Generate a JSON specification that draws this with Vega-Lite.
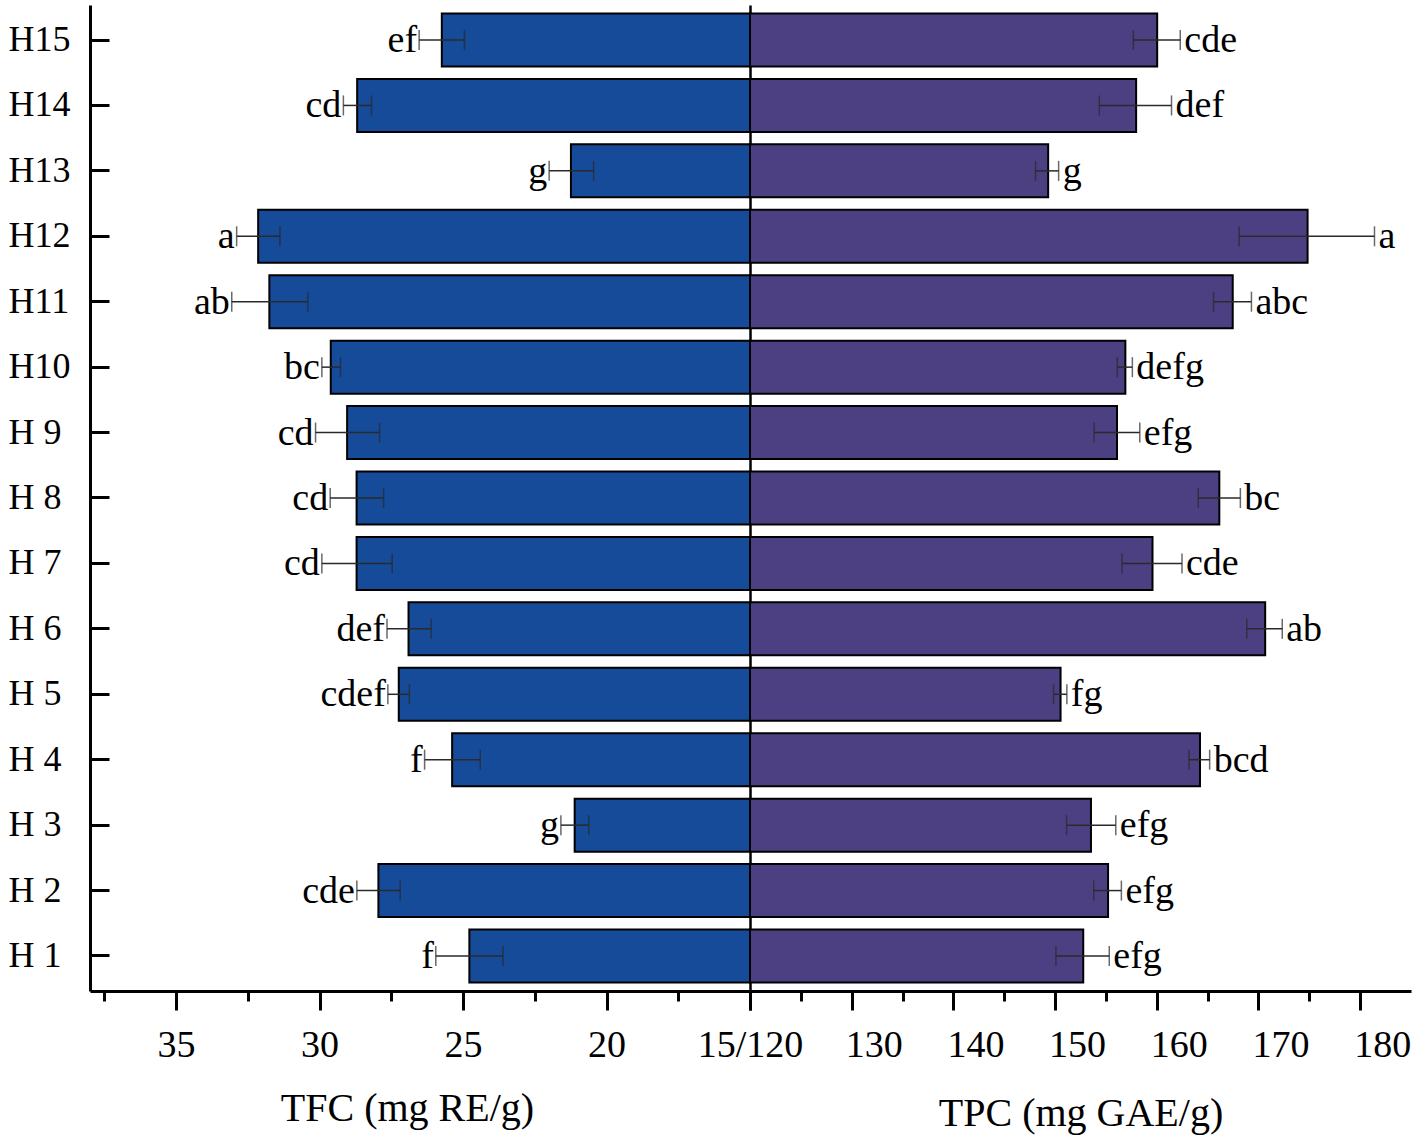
{
  "$schema": "https://vega.github.io/schema/vega-lite/v6.json",
  "description": "Back-to-back bars: TFC (left) and TPC (right) for honey samples H1-H15, with SD error bars and significance letters.",
  "bounds": "flush",
  "spacing": 0,
  "padding": {"left": 8, "top": 5, "right": 5, "bottom": 5},
  "datasets": {
    "samples": [
      {"sample": "H15", "tfc": 25.74, "tfc_lo": 24.95, "tfc_hi": 26.53, "tfc_grp": "ef", "tpc": 160.04, "tpc_lo": 157.70, "tpc_hi": 162.31, "tpc_grp": "cde"},
      {"sample": "H14", "tfc": 28.69, "tfc_lo": 28.19, "tfc_hi": 29.17, "tfc_grp": "cd", "tpc": 157.97, "tpc_lo": 154.35, "tpc_hi": 161.45, "tpc_grp": "def"},
      {"sample": "H13", "tfc": 21.24, "tfc_lo": 20.45, "tfc_hi": 22.00, "tfc_grp": "g", "tpc": 149.32, "tpc_lo": 148.08, "tpc_hi": 150.35, "tpc_grp": "g"},
      {"sample": "H12", "tfc": 32.14, "tfc_lo": 31.38, "tfc_hi": 32.89, "tfc_grp": "a", "tpc": 174.83, "tpc_lo": 168.10, "tpc_hi": 181.41, "tpc_grp": "a"},
      {"sample": "H11", "tfc": 31.75, "tfc_lo": 30.41, "tfc_hi": 33.06, "tfc_grp": "ab", "tpc": 167.47, "tpc_lo": 165.59, "tpc_hi": 169.31, "tpc_grp": "abc"},
      {"sample": "H10", "tfc": 29.61, "tfc_lo": 29.27, "tfc_hi": 29.92, "tfc_grp": "bc", "tpc": 156.91, "tpc_lo": 156.12, "tpc_hi": 157.60, "tpc_grp": "defg"},
      {"sample": "H 9", "tfc": 29.04, "tfc_lo": 27.91, "tfc_hi": 30.14, "tfc_grp": "cd", "tpc": 156.09, "tpc_lo": 153.83, "tpc_hi": 158.33, "tpc_grp": "efg"},
      {"sample": "H 8", "tfc": 28.71, "tfc_lo": 27.77, "tfc_hi": 29.63, "tfc_grp": "cd", "tpc": 166.15, "tpc_lo": 164.08, "tpc_hi": 168.22, "tpc_grp": "bc"},
      {"sample": "H 7", "tfc": 28.71, "tfc_lo": 27.47, "tfc_hi": 29.92, "tfc_grp": "cd", "tpc": 159.58, "tpc_lo": 156.59, "tpc_hi": 162.48, "tpc_grp": "cde"},
      {"sample": "H 6", "tfc": 26.90, "tfc_lo": 26.11, "tfc_hi": 27.65, "tfc_grp": "def", "tpc": 170.66, "tpc_lo": 168.85, "tpc_hi": 172.34, "tpc_grp": "ab"},
      {"sample": "H 5", "tfc": 27.24, "tfc_lo": 26.87, "tfc_hi": 27.62, "tfc_grp": "cdef", "tpc": 150.54, "tpc_lo": 149.85, "tpc_hi": 151.16, "tpc_grp": "fg"},
      {"sample": "H 4", "tfc": 25.38, "tfc_lo": 24.40, "tfc_hi": 26.34, "tfc_grp": "f", "tpc": 164.25, "tpc_lo": 163.17, "tpc_hi": 165.20, "tpc_grp": "bcd"},
      {"sample": "H 3", "tfc": 21.11, "tfc_lo": 20.62, "tfc_hi": 21.59, "tfc_grp": "g", "tpc": 153.53, "tpc_lo": 151.13, "tpc_hi": 155.97, "tpc_grp": "efg"},
      {"sample": "H 2", "tfc": 27.95, "tfc_lo": 27.19, "tfc_hi": 28.70, "tfc_grp": "cde", "tpc": 155.21, "tpc_lo": 153.80, "tpc_hi": 156.52, "tpc_grp": "efg"},
      {"sample": "H 1", "tfc": 24.78, "tfc_lo": 23.61, "tfc_hi": 25.95, "tfc_grp": "f", "tpc": 152.77, "tpc_lo": 150.08, "tpc_hi": 155.33, "tpc_grp": "efg"}
    ]
  },
  "data": {"name": "samples"},
  "config": {
    "view": {"stroke": null},
    "font": "Liberation Serif",
    "axis": {
      "grid": false,
      "domainColor": "black",
      "tickColor": "black",
      "labelColor": "black",
      "titleColor": "black",
      "labelFont": "Liberation Serif",
      "titleFont": "Liberation Serif",
      "titleFontWeight": "normal"
    }
  },
  "hconcat": [
    {
      "width": 660,
      "height": 986,
      "encoding": {
        "y": {
          "field": "sample",
          "type": "nominal",
          "sort": ["H15", "H14", "H13", "H12", "H11", "H10", "H 9", "H 8", "H 7", "H 6", "H 5", "H 4", "H 3", "H 2", "H 1"],
          "scale": {"paddingInner": 0.19, "paddingOuter": 0.13},
          "axis": {
            "title": null,
            "labelFontSize": 36,
            "labelAlign": "left",
            "labelBaseline": "middle",
            "labelPadding": 101,
            "tickSize": -19,
            "tickWidth": 3,
            "domainWidth": 3
          }
        }
      },
      "layer": [
        {
          "mark": {"type": "bar", "color": "#164b99", "stroke": "black", "strokeWidth": 2},
          "encoding": {
            "x": {
              "field": "tfc",
              "type": "quantitative",
              "title": "TFC (mg RE/g)",
              "scale": {"domain": [15, 38], "reverse": true, "nice": false, "zero": false},
              "axis": {
                "values": [15, 17.5, 20, 22.5, 25, 27.5, 30, 32.5, 35, 37.5],
                "labelExpr": "datum.value == 15 ? '15/120' : (datum.value % 5 == 0 ? format(datum.value, 'd') : '')",
                "tickSize": {"condition": {"test": "datum.value % 5 == 0", "value": 19}, "value": 10},
                "tickWidth": 3,
                "domainWidth": 3,
                "labelFontSize": 38,
                "labelPadding": 16,
                "labelOverlap": false,
                "labelFlush": false,
                "titleFontSize": 40,
                "titleX": 317,
                "titleY": 117,
                "titleAlign": "center",
                "titleBaseline": "middle"
              }
            },
            "x2": {"datum": 15}
          }
        },
        {
          "mark": {"type": "errorbar", "ticks": {"size": 20}, "thickness": 1.5, "color": "#2a2a2a"},
          "encoding": {
            "x": {"field": "tfc_lo", "type": "quantitative", "title": "TFC (mg RE/g)"},
            "x2": {"field": "tfc_hi"}
          }
        },
        {
          "mark": {"type": "text", "align": "right", "baseline": "alphabetic", "dx": -2, "dy": 12, "fontSize": 38, "color": "black"},
          "encoding": {
            "x": {"field": "tfc_hi", "type": "quantitative", "title": "TFC (mg RE/g)"},
            "text": {"field": "tfc_grp"}
          }
        }
      ]
    },
    {
      "width": 661,
      "height": 986,
      "encoding": {
        "y": {
          "field": "sample",
          "type": "nominal",
          "sort": ["H15", "H14", "H13", "H12", "H11", "H10", "H 9", "H 8", "H 7", "H 6", "H 5", "H 4", "H 3", "H 2", "H 1"],
          "scale": {"paddingInner": 0.19, "paddingOuter": 0.13},
          "axis": {"title": null, "labels": false, "ticks": false, "domainWidth": 2.5}
        }
      },
      "layer": [
        {
          "mark": {"type": "bar", "color": "#4c4083", "stroke": "black", "strokeWidth": 2},
          "encoding": {
            "x": {
              "field": "tpc",
              "type": "quantitative",
              "title": "TPC (mg GAE/g)",
              "scale": {"domain": [120, 185], "nice": false, "zero": false},
              "axis": {
                "values": [120, 125, 130, 135, 140, 145, 150, 155, 160, 165, 170, 175, 180],
                "labelExpr": "datum.value % 10 == 0 && datum.value > 120 ? format(datum.value, 'd') : ''",
                "tickSize": {"condition": {"test": "datum.value % 10 == 0", "value": 19}, "value": 10},
                "tickWidth": 3,
                "domainWidth": 3,
                "labelFontSize": 38,
                "labelPadding": 16,
                "labelOffset": 22,
                "labelOverlap": false,
                "labelFlush": false,
                "titleFontSize": 40,
                "titleY": 122,
                "titleBaseline": "middle"
              }
            },
            "x2": {"datum": 120}
          }
        },
        {
          "mark": {"type": "errorbar", "ticks": {"size": 20}, "thickness": 1.5, "color": "#2a2a2a"},
          "encoding": {
            "x": {"field": "tpc_lo", "type": "quantitative", "title": "TPC (mg GAE/g)"},
            "x2": {"field": "tpc_hi"}
          }
        },
        {
          "mark": {"type": "text", "align": "left", "baseline": "alphabetic", "dx": 4, "dy": 12, "fontSize": 38, "color": "black"},
          "encoding": {
            "x": {"field": "tpc_hi", "type": "quantitative", "title": "TPC (mg GAE/g)"},
            "text": {"field": "tpc_grp"}
          }
        }
      ]
    }
  ]
}
